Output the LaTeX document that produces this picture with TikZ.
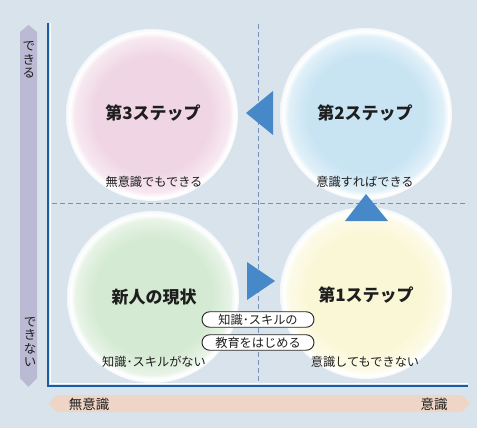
\documentclass[tikz,border=0pt]{standalone}
\usepackage{fontspec}
\setmainfont{Noto Sans CJK JP}
\usetikzlibrary{shapes.misc}
\definecolor{bgc}{RGB}{217,227,236}
\definecolor{vband}{RGB}{186,186,212}
\definecolor{hband}{RGB}{238,213,198}
\definecolor{axisc}{RGB}{28,92,165}
\definecolor{dashc}{RGB}{115,145,185}
\definecolor{tric}{RGB}{70,136,200}
\definecolor{txtc}{RGB}{30,30,30}
\definecolor{pinkc}{RGB}{240,214,228}
\definecolor{bluec}{RGB}{200,228,243}
\definecolor{greenc}{RGB}{212,234,210}
\definecolor{yellowc}{RGB}{250,247,214}
\pgfdeclareradialshading{pinkglow}{\pgfpoint{0bp}{0bp}}{color(0bp)=(pinkc); color(17bp)=(pinkc); color(22.5bp)=(pinkc!55!white); color(24bp)=(white); color(25bp)=(white!70!bgc); color(50bp)=(bgc)}
\pgfdeclareradialshading{blueglow}{\pgfpoint{0bp}{0bp}}{color(0bp)=(bluec); color(17bp)=(bluec); color(22.5bp)=(bluec!55!white); color(24bp)=(white); color(25bp)=(white!70!bgc); color(50bp)=(bgc)}
\pgfdeclareradialshading{greenglow}{\pgfpoint{0bp}{0bp}}{color(0bp)=(greenc); color(17bp)=(greenc); color(22.5bp)=(greenc!55!white); color(24bp)=(white); color(25bp)=(white!70!bgc); color(50bp)=(bgc)}
\pgfdeclareradialshading{yellowglow}{\pgfpoint{0bp}{0bp}}{color(0bp)=(yellowc); color(17bp)=(yellowc); color(22.5bp)=(yellowc!55!white); color(24bp)=(white); color(25bp)=(white!70!bgc); color(50bp)=(bgc)}
\tikzset{
  stepcircle/.style={circle, minimum size=172pt, inner sep=0pt},
  titletext/.style={text=txtc, font=\fontsize{17}{20}\selectfont\bfseries, inner sep=0pt},
  subtext/.style={text=txtc, font=\fontsize{12.2}{14}\selectfont, inner sep=0pt},
  vtext/.style={text=txtc, font=\fontsize{12.5}{13.3}\selectfont, align=center, inner sep=0pt},
  htext/.style={text=txtc, font=\fontsize{13.5}{15}\selectfont, inner sep=0pt},
  pill/.style={rounded rectangle, draw=black!85, line width=0.9pt, fill=white, minimum width=112pt, minimum height=15.5pt, inner sep=0pt, text=txtc, font=\fontsize{12.2}{14}\selectfont},
  dashline/.style={draw=dashc, line width=0.7pt, dash pattern=on 5pt off 3pt},
  tri/.style={fill=tric},
}
\begin{document}
\begin{tikzpicture}[x=1pt,y=-1pt]
\useasboundingbox (0,0) rectangle (477,428);
\fill[bgc] (0,0) rectangle (477,428);
% dashed guide lines
\coordinate (dv1) at (258,24);
\coordinate (dv2) at (258,384);
\coordinate (dh1) at (52,203);
\coordinate (dh2) at (468,203);
\draw[dashline] (dv1) -- (dv2);
\draw[dashline] (dh1) -- (dh2);
% circles
\node[stepcircle, shading=pinkglow] (c3) at (152,115) {};
\node[stepcircle, shading=blueglow] (c2) at (366,114) {};
\node[stepcircle, shading=greenglow] (c0) at (153,297) {};
\node[stepcircle, shading=yellowglow] (c1) at (366,293) {};
% triangles
\fill[tri] (246,113) -- (273,91) -- (273,135) -- cycle;
\fill[tri] (366,194) -- (388,221) -- (345,221) -- cycle;
\fill[tri] (275,281) -- (247,262) -- (247,300) -- cycle;
% bands
\fill[vband] (20,32) -- (28.5,25) -- (37,32) -- (37,378) -- (28.5,387) -- (20,378) -- cycle;
\fill[hband] (57,395) -- (48,403.5) -- (57,412) -- (462,412) -- (470,403.5) -- (462,395) -- cycle;
% axes
\coordinate (ax0) at (48,23);
\coordinate (ax1) at (48,386);
\coordinate (ax2) at (468,386);
\draw[white, line width=0.8pt] (50.3,23) -- (50.3,383.7) -- (468,383.7);
\draw[axisc, line width=1.8pt, line join=miter] (ax0) -- (ax1) -- (ax2);
% texts
\node[titletext] (t3) at (153,113) {第3ステップ};
\node[subtext] (s3) at (154,182) {無意識でもできる};
\node[titletext] (t2) at (365,113) {第2ステップ};
\node[subtext] (s2) at (365,182) {意識すればできる};
\node[titletext] (t0) at (154,297) {新人の現状};
\node[subtext] (s0) at (154,362) {知識･スキルがない};
\node[titletext] (t1) at (366,295) {第1ステップ};
\node[subtext] (s1) at (365,362) {意識してもできない};
\node[pill] (p1) at (258,319.5) {知識･スキルの};
\node[pill] (p2) at (258,342.5) {教育をはじめる};
\node[vtext] (vy1) at (29,60) {で\\き\\る};
\node[vtext] (vy0) at (30,342) {で\\き\\な\\い};
\node[htext] (hx0) at (89,404) {無意識};
\node[htext] (hx1) at (434,404) {意識};
\end{tikzpicture}
\end{document}
